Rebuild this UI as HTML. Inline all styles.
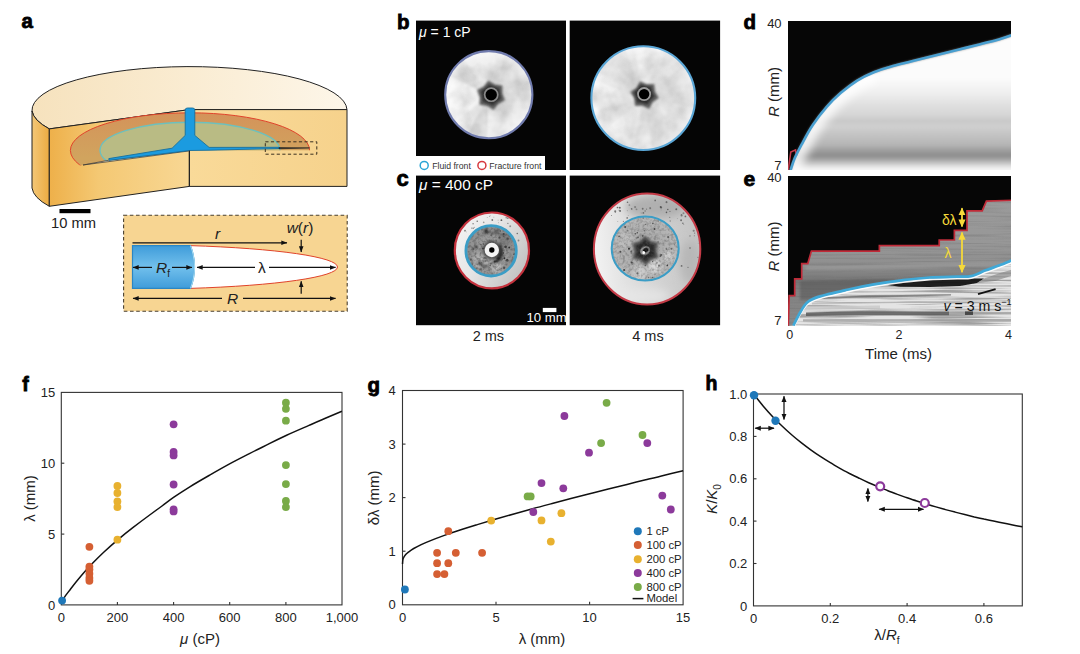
<!DOCTYPE html>
<html><head><meta charset="utf-8"><title>Figure</title>
<style>
html,body{margin:0;padding:0;background:#fff;}
body{width:1080px;height:654px;overflow:hidden;font-family:"Liberation Sans",sans-serif;}
svg{display:block;font-family:"Liberation Sans",sans-serif;}
</style></head><body>
<svg width="1080" height="654" viewBox="0 0 1080 654">
<rect width="1080" height="654" fill="#fff"/>
<g id="panel-f">
<rect x="61.3" y="392.4" width="280.7" height="212.5" fill="none" stroke="#333" stroke-width="1.1"/>
<text x="61.3" y="622.0" font-size="13" text-anchor="middle" font-weight="normal" font-style="normal" fill="#222" >0</text>
<line x1="117.4" y1="604.9" x2="117.4" y2="601.9" stroke="#333" stroke-width="1.1"/>
<text x="117.4" y="622.0" font-size="13" text-anchor="middle" font-weight="normal" font-style="normal" fill="#222" >200</text>
<line x1="173.6" y1="604.9" x2="173.6" y2="601.9" stroke="#333" stroke-width="1.1"/>
<text x="173.6" y="622.0" font-size="13" text-anchor="middle" font-weight="normal" font-style="normal" fill="#222" >400</text>
<line x1="229.7" y1="604.9" x2="229.7" y2="601.9" stroke="#333" stroke-width="1.1"/>
<text x="229.7" y="622.0" font-size="13" text-anchor="middle" font-weight="normal" font-style="normal" fill="#222" >600</text>
<line x1="285.9" y1="604.9" x2="285.9" y2="601.9" stroke="#333" stroke-width="1.1"/>
<text x="285.9" y="622.0" font-size="13" text-anchor="middle" font-weight="normal" font-style="normal" fill="#222" >800</text>
<text x="342.0" y="622.0" font-size="13" text-anchor="middle" font-weight="normal" font-style="normal" fill="#222" >1,000</text>
<text x="55.3" y="609.5" font-size="13" text-anchor="end" font-weight="normal" font-style="normal" fill="#222" >0</text>
<line x1="61.3" y1="534.1" x2="64.3" y2="534.1" stroke="#333" stroke-width="1.1"/>
<text x="55.3" y="538.7" font-size="13" text-anchor="end" font-weight="normal" font-style="normal" fill="#222" >5</text>
<line x1="61.3" y1="463.2" x2="64.3" y2="463.2" stroke="#333" stroke-width="1.1"/>
<text x="55.3" y="467.8" font-size="13" text-anchor="end" font-weight="normal" font-style="normal" fill="#222" >10</text>
<text x="55.3" y="397.0" font-size="13" text-anchor="end" font-weight="normal" font-style="normal" fill="#222" >15</text>
<path d="M61.3,603.8 C61.8,602.8 62.5,600.5 64.0,598.0 C65.5,595.5 67.8,592.7 70.6,589.0 C73.4,585.3 77.5,580.1 81.0,576.0 C84.5,571.9 87.5,568.6 91.3,564.6 C95.1,560.6 99.3,556.3 103.7,552.2 C108.1,548.1 112.9,543.8 117.7,539.8 C122.5,535.8 127.3,531.9 132.5,527.9 C137.7,523.9 144.1,519.1 149.0,515.5 C153.9,511.9 157.8,509.1 162.0,506.0 C166.2,502.9 169.3,500.4 173.9,497.2 C178.5,494.0 183.8,490.5 189.8,486.8 C195.8,483.1 203.1,478.9 209.7,475.1 C216.3,471.3 223.0,467.5 229.6,463.9 C236.2,460.3 242.8,457.0 249.4,453.6 C256.0,450.2 263.1,446.8 269.3,443.7 C275.5,440.6 280.0,438.4 286.6,435.3 C293.2,432.2 301.9,428.5 309.0,425.4 C316.1,422.3 323.4,419.1 328.9,416.8 C334.4,414.5 339.7,412.2 341.9,411.3" fill="none" stroke="#111" stroke-width="1.5"/>
<circle cx="89.4" cy="546.8" r="3.9" fill="#d55f33"/>
<circle cx="89.4" cy="566.6" r="3.9" fill="#d55f33"/>
<circle cx="89.4" cy="569.5" r="3.9" fill="#d55f33"/>
<circle cx="89.4" cy="573.7" r="3.9" fill="#d55f33"/>
<circle cx="89.4" cy="578.0" r="3.9" fill="#d55f33"/>
<circle cx="89.4" cy="580.8" r="3.9" fill="#d55f33"/>
<circle cx="117.4" cy="485.9" r="3.9" fill="#e8b12f"/>
<circle cx="117.4" cy="493.0" r="3.9" fill="#e8b12f"/>
<circle cx="117.4" cy="501.5" r="3.9" fill="#e8b12f"/>
<circle cx="117.4" cy="507.1" r="3.9" fill="#e8b12f"/>
<circle cx="117.4" cy="539.7" r="3.9" fill="#e8b12f"/>
<circle cx="173.6" cy="424.3" r="3.9" fill="#8c3a9b"/>
<circle cx="173.6" cy="451.9" r="3.9" fill="#8c3a9b"/>
<circle cx="173.6" cy="455.4" r="3.9" fill="#8c3a9b"/>
<circle cx="173.6" cy="484.5" r="3.9" fill="#8c3a9b"/>
<circle cx="173.6" cy="509.3" r="3.9" fill="#8c3a9b"/>
<circle cx="173.6" cy="511.4" r="3.9" fill="#8c3a9b"/>
<circle cx="285.9" cy="402.7" r="3.9" fill="#79ab48"/>
<circle cx="285.9" cy="408.8" r="3.9" fill="#79ab48"/>
<circle cx="285.9" cy="420.7" r="3.9" fill="#79ab48"/>
<circle cx="285.9" cy="465.1" r="3.9" fill="#79ab48"/>
<circle cx="285.9" cy="484.1" r="3.9" fill="#79ab48"/>
<circle cx="285.9" cy="500.9" r="3.9" fill="#79ab48"/>
<circle cx="285.9" cy="507.1" r="3.9" fill="#79ab48"/>
<circle cx="62.1" cy="600.6" r="3.9" fill="#1f78b9"/>
<text x="22.3" y="390.9" font-size="19.5" text-anchor="start" font-weight="bold" font-style="normal" fill="#000" stroke="#000" stroke-width="0.8">f</text>
<text transform="translate(34.5,498.5) rotate(-90)" font-size="15" text-anchor="middle" fill="#222">λ (mm)</text>
<text x="200" y="644" font-size="15" text-anchor="middle" fill="#222"><tspan font-style="italic">μ</tspan> (cP)</text>
</g>
<g id="panel-g">
<rect x="402.5" y="390.5" width="280.6" height="214.3" fill="none" stroke="#333" stroke-width="1.1"/>
<text x="402.5" y="622.0" font-size="13" text-anchor="middle" font-weight="normal" font-style="normal" fill="#222" >0</text>
<line x1="496.0" y1="604.8" x2="496.0" y2="601.8" stroke="#333" stroke-width="1.1"/>
<text x="496.0" y="622.0" font-size="13" text-anchor="middle" font-weight="normal" font-style="normal" fill="#222" >5</text>
<line x1="589.6" y1="604.8" x2="589.6" y2="601.8" stroke="#333" stroke-width="1.1"/>
<text x="589.6" y="622.0" font-size="13" text-anchor="middle" font-weight="normal" font-style="normal" fill="#222" >10</text>
<text x="683.1" y="622.0" font-size="13" text-anchor="middle" font-weight="normal" font-style="normal" fill="#222" >15</text>
<text x="395.7" y="609.4" font-size="13" text-anchor="end" font-weight="normal" font-style="normal" fill="#222" >0</text>
<line x1="402.5" y1="551.2" x2="405.5" y2="551.2" stroke="#333" stroke-width="1.1"/>
<text x="395.7" y="555.8" font-size="13" text-anchor="end" font-weight="normal" font-style="normal" fill="#222" >1</text>
<line x1="402.5" y1="497.6" x2="405.5" y2="497.6" stroke="#333" stroke-width="1.1"/>
<text x="395.7" y="502.2" font-size="13" text-anchor="end" font-weight="normal" font-style="normal" fill="#222" >2</text>
<line x1="402.5" y1="444.1" x2="405.5" y2="444.1" stroke="#333" stroke-width="1.1"/>
<text x="395.7" y="448.7" font-size="13" text-anchor="end" font-weight="normal" font-style="normal" fill="#222" >3</text>
<text x="395.7" y="395.1" font-size="13" text-anchor="end" font-weight="normal" font-style="normal" fill="#222" >4</text>
<path d="M402.5,564.0 C402.6,563.2 402.7,560.7 402.9,559.6 C403.1,558.5 403.2,558.3 403.6,557.6 C404.0,556.8 404.6,555.9 405.3,555.0 C406.1,554.2 406.7,553.4 408.1,552.3 C409.5,551.3 411.5,549.8 413.7,548.5 C415.9,547.3 418.4,546.0 421.2,544.6 C424.0,543.3 426.8,542.1 430.6,540.6 C434.3,539.1 439.0,537.3 443.7,535.6 C448.3,533.9 453.0,532.3 458.6,530.5 C464.2,528.6 471.1,526.5 477.3,524.6 C483.6,522.7 489.8,520.8 496.0,519.0 C502.3,517.2 508.5,515.4 514.7,513.7 C521.0,511.9 527.2,510.2 533.4,508.5 C539.7,506.9 545.9,505.2 552.2,503.5 C558.4,501.9 564.6,500.3 570.9,498.6 C577.1,497.0 583.3,495.4 589.6,493.8 C595.8,492.2 602.0,490.7 608.3,489.1 C614.5,487.5 620.7,486.0 627.0,484.4 C633.2,482.9 639.5,481.3 645.7,479.8 C651.9,478.3 658.2,476.8 664.4,475.2 C670.6,473.7 680.0,471.5 683.1,470.7" fill="none" stroke="#111" stroke-width="1.5"/>
<circle cx="437.1" cy="552.8" r="3.9" fill="#d55f33"/>
<circle cx="437.1" cy="563.2" r="3.9" fill="#d55f33"/>
<circle cx="437.1" cy="574.1" r="3.9" fill="#d55f33"/>
<circle cx="444.4" cy="574.1" r="3.9" fill="#d55f33"/>
<circle cx="448.3" cy="563.2" r="3.9" fill="#d55f33"/>
<circle cx="448.3" cy="531.2" r="3.9" fill="#d55f33"/>
<circle cx="455.8" cy="552.8" r="3.9" fill="#d55f33"/>
<circle cx="482.1" cy="552.8" r="3.9" fill="#d55f33"/>
<circle cx="491.2" cy="520.6" r="3.9" fill="#e8b12f"/>
<circle cx="541.5" cy="520.4" r="3.9" fill="#e8b12f"/>
<circle cx="561.4" cy="513.2" r="3.9" fill="#e8b12f"/>
<circle cx="550.8" cy="541.6" r="3.9" fill="#e8b12f"/>
<circle cx="533.3" cy="512.0" r="3.9" fill="#8c3a9b"/>
<circle cx="541.5" cy="483.1" r="3.9" fill="#8c3a9b"/>
<circle cx="564.4" cy="416.0" r="3.9" fill="#8c3a9b"/>
<circle cx="589.0" cy="452.7" r="3.9" fill="#8c3a9b"/>
<circle cx="647.3" cy="443.1" r="3.9" fill="#8c3a9b"/>
<circle cx="563.3" cy="488.3" r="3.9" fill="#8c3a9b"/>
<circle cx="662.3" cy="495.6" r="3.9" fill="#8c3a9b"/>
<circle cx="670.8" cy="509.5" r="3.9" fill="#8c3a9b"/>
<circle cx="527.6" cy="496.4" r="3.9" fill="#79ab48"/>
<circle cx="530.7" cy="496.4" r="3.9" fill="#79ab48"/>
<circle cx="606.6" cy="402.8" r="3.9" fill="#79ab48"/>
<circle cx="601.1" cy="443.1" r="3.9" fill="#79ab48"/>
<circle cx="642.5" cy="435.0" r="3.9" fill="#79ab48"/>
<circle cx="404.9" cy="589.5" r="3.9" fill="#1f78b9"/>
<circle cx="637.8" cy="531.2" r="4.0" fill="#1f78b9"/>
<text x="646.4" y="534.7" font-size="11.3" text-anchor="start" font-weight="normal" font-style="normal" fill="#222" >1 cP</text>
<circle cx="637.8" cy="545.0" r="4.0" fill="#d55f33"/>
<text x="646.4" y="548.5" font-size="11.3" text-anchor="start" font-weight="normal" font-style="normal" fill="#222" >100 cP</text>
<circle cx="637.8" cy="559.2" r="4.0" fill="#e8b12f"/>
<text x="646.4" y="562.7" font-size="11.3" text-anchor="start" font-weight="normal" font-style="normal" fill="#222" >200 cP</text>
<circle cx="637.8" cy="573.0" r="4.0" fill="#8c3a9b"/>
<text x="646.4" y="576.5" font-size="11.3" text-anchor="start" font-weight="normal" font-style="normal" fill="#222" >400 cP</text>
<circle cx="637.8" cy="587.0" r="4.0" fill="#79ab48"/>
<text x="646.4" y="590.5" font-size="11.3" text-anchor="start" font-weight="normal" font-style="normal" fill="#222" >800 cP</text>
<line x1="632.6" y1="598.6" x2="643.4" y2="598.6" stroke="#111" stroke-width="1.5"/>
<text x="646.4" y="602.4" font-size="11.3" text-anchor="start" font-weight="normal" font-style="normal" fill="#222" >Model</text>
<text x="367.5" y="391.8" font-size="20.5" text-anchor="start" font-weight="bold" font-style="normal" fill="#000" stroke="#000" stroke-width="0.8">g</text>
<text transform="translate(379,497.8) rotate(-90)" font-size="15" text-anchor="middle" fill="#222">δλ (mm)</text>
<text x="542" y="644" font-size="15" text-anchor="middle" fill="#222">λ (mm)</text>
</g>
<g id="panel-h">
<rect x="753.5" y="394.0" width="268.8" height="211.9" fill="none" stroke="#333" stroke-width="1.1"/>
<text x="753.5" y="622.5" font-size="13" text-anchor="middle" font-weight="normal" font-style="normal" fill="#222" >0</text>
<line x1="830.3" y1="605.9" x2="830.3" y2="602.9" stroke="#333" stroke-width="1.1"/>
<text x="830.3" y="622.5" font-size="13" text-anchor="middle" font-weight="normal" font-style="normal" fill="#222" >0.2</text>
<line x1="907.1" y1="605.9" x2="907.1" y2="602.9" stroke="#333" stroke-width="1.1"/>
<text x="907.1" y="622.5" font-size="13" text-anchor="middle" font-weight="normal" font-style="normal" fill="#222" >0.4</text>
<line x1="983.9" y1="605.9" x2="983.9" y2="602.9" stroke="#333" stroke-width="1.1"/>
<text x="983.9" y="622.5" font-size="13" text-anchor="middle" font-weight="normal" font-style="normal" fill="#222" >0.6</text>
<text x="747.3" y="610.5" font-size="13" text-anchor="end" font-weight="normal" font-style="normal" fill="#222" >0</text>
<line x1="753.5" y1="563.5" x2="756.5" y2="563.5" stroke="#333" stroke-width="1.1"/>
<text x="747.3" y="568.1" font-size="13" text-anchor="end" font-weight="normal" font-style="normal" fill="#222" >0.2</text>
<line x1="753.5" y1="521.1" x2="756.5" y2="521.1" stroke="#333" stroke-width="1.1"/>
<text x="747.3" y="525.7" font-size="13" text-anchor="end" font-weight="normal" font-style="normal" fill="#222" >0.4</text>
<line x1="753.5" y1="478.8" x2="756.5" y2="478.8" stroke="#333" stroke-width="1.1"/>
<text x="747.3" y="483.4" font-size="13" text-anchor="end" font-weight="normal" font-style="normal" fill="#222" >0.6</text>
<line x1="753.5" y1="436.4" x2="756.5" y2="436.4" stroke="#333" stroke-width="1.1"/>
<text x="747.3" y="441.0" font-size="13" text-anchor="end" font-weight="normal" font-style="normal" fill="#222" >0.8</text>
<text x="747.3" y="398.6" font-size="13" text-anchor="end" font-weight="normal" font-style="normal" fill="#222" >1.0</text>
<path d="M753.5,394.0 C755.1,396.0 759.9,402.2 763.1,406.0 C766.3,409.8 769.5,413.3 772.7,416.7 C775.9,420.1 779.1,423.3 782.3,426.3 C785.5,429.4 788.7,432.3 791.9,435.0 C795.1,437.8 798.3,440.4 801.5,442.9 C804.7,445.4 807.9,447.8 811.1,450.1 C814.3,452.4 817.5,454.6 820.7,456.7 C823.9,458.8 827.1,460.8 830.3,462.7 C833.5,464.7 836.7,466.5 839.9,468.3 C843.1,470.1 846.3,471.8 849.5,473.5 C852.7,475.1 855.9,476.7 859.1,478.2 C862.3,479.8 865.5,481.3 868.7,482.7 C871.9,484.1 875.1,485.5 878.3,486.9 C881.5,488.2 884.7,489.5 887.9,490.7 C891.1,492.0 894.3,493.2 897.5,494.4 C900.7,495.5 903.9,496.7 907.1,497.8 C910.3,498.9 913.5,500.0 916.7,501.0 C919.9,502.0 923.1,503.0 926.3,504.0 C929.5,505.0 932.7,506.0 935.9,506.9 C939.1,507.8 942.3,508.7 945.5,509.6 C948.7,510.5 951.9,511.3 955.1,512.1 C958.3,513.0 961.5,513.8 964.7,514.6 C967.9,515.4 971.1,516.1 974.3,516.9 C977.5,517.6 980.7,518.3 983.9,519.1 C987.1,519.8 990.3,520.5 993.5,521.1 C996.7,521.8 999.9,522.5 1003.1,523.1 C1006.3,523.8 1009.5,524.4 1012.7,525.0 C1015.9,525.6 1020.7,526.5 1022.3,526.8" fill="none" stroke="#111" stroke-width="1.5"/>
<circle cx="754" cy="395.2" r="4.2" fill="#1f78b9"/>
<circle cx="775.5" cy="420.8" r="4.2" fill="#1f78b9"/>
<circle cx="880.2" cy="486.3" r="4.0" fill="#fff" stroke="#8c3a9b" stroke-width="2.2"/>
<circle cx="924.8" cy="503" r="4.0" fill="#fff" stroke="#8c3a9b" stroke-width="2.2"/>
<defs><marker id="ah" viewBox="0 0 10 10" refX="9" refY="5" markerWidth="5.4" markerHeight="5.0" orient="auto-start-reverse"><path d="M0,1 L10,5 L0,9 z" fill="#111"/></marker></defs>
<line x1="784.0" y1="396.3" x2="784.0" y2="419.4" stroke="#111" stroke-width="1.25" marker-start="url(#ah)" marker-end="url(#ah)"/>
<line x1="755.2" y1="428.2" x2="774.0" y2="428.2" stroke="#111" stroke-width="1.25" marker-start="url(#ah)" marker-end="url(#ah)"/>
<line x1="867.9" y1="488.5" x2="867.9" y2="501.5" stroke="#111" stroke-width="1.25" marker-start="url(#ah)" marker-end="url(#ah)"/>
<line x1="879.2" y1="509.3" x2="923.5" y2="509.3" stroke="#111" stroke-width="1.25" marker-start="url(#ah)" marker-end="url(#ah)"/>
<text x="705.5" y="390.3" font-size="19.5" text-anchor="start" font-weight="bold" font-style="normal" fill="#000" stroke="#000" stroke-width="0.8">h</text>
 <text transform="translate(716.8,499) rotate(-90)" font-size="15" text-anchor="middle" fill="#222"><tspan font-style="italic">K</tspan>/<tspan font-style="italic">K</tspan><tspan font-size="10" dy="4">0</tspan></text>
<text x="887" y="640" font-size="15" text-anchor="middle" fill="#222">λ/<tspan font-style="italic">R</tspan><tspan font-size="10" dy="4">f</tspan></text>
</g>
<g id="panel-a">
<defs>
<linearGradient id="aTop" x1="0" y1="0" x2="1" y2="0"><stop offset="0" stop-color="#f6e2bd"/><stop offset="0.5" stop-color="#faecd2"/><stop offset="1" stop-color="#fdf6e9"/></linearGradient>
<linearGradient id="aLeft" x1="0" y1="0" x2="1" y2="0"><stop offset="0" stop-color="#eeb04a"/><stop offset="0.35" stop-color="#f4c873"/><stop offset="1" stop-color="#f8d794"/></linearGradient>
<linearGradient id="aWall" x1="0" y1="0" x2="1" y2="0"><stop offset="0" stop-color="#f3c777"/><stop offset="1" stop-color="#ecab41"/></linearGradient>
<linearGradient id="aRight" x1="0" y1="0" x2="1" y2="0"><stop offset="0" stop-color="#f9da99"/><stop offset="1" stop-color="#f6d28c"/></linearGradient>
<linearGradient id="aFluid" x1="0" y1="0" x2="0" y2="1"><stop offset="0" stop-color="#3f9cda"/><stop offset="0.5" stop-color="#72c0ec"/><stop offset="1" stop-color="#3f9cda"/></linearGradient>
<linearGradient id="aRed" x1="0" y1="0" x2="0" y2="1"><stop offset="0" stop-color="#d4935a"/><stop offset="0.6" stop-color="#d1a45e"/><stop offset="1" stop-color="#cda35c"/></linearGradient>
<clipPath id="aClipBack"><path d="M40,60 L360,60 L360,150.2 L189.4,150.2 L83,165.0 L40,171 Z"/></clipPath>
</defs>
<path d="M32,111 A157.5,43.7 0 0 1 347,109.6 L189.4,109.6 L49.3,128.9 A157.5,43.7 0 0 1 32,111 Z" fill="url(#aTop)" stroke="#222" stroke-width="1" stroke-linejoin="round"/>
<path d="M32,111 A157.5,43.7 0 0 0 49.3,128.9 L49.3,206.3 A157.5,43.7 0 0 1 32,188 Z" fill="url(#aWall)" stroke="#222" stroke-width="1" stroke-linejoin="round"/>
<path d="M49.3,128.9 L189.4,109.6 L189.4,186.4 L49.3,206.3 Z" fill="url(#aLeft)" stroke="#222" stroke-width="1" stroke-linejoin="round"/>
<path d="M189.4,109.6 L347,109.6 L347,186.4 L189.4,186.4 Z" fill="url(#aRight)" stroke="#222" stroke-width="1" stroke-linejoin="round"/>
<g clip-path="url(#aClipBack)">
<ellipse cx="190" cy="150.4" rx="119.6" ry="37.6" fill="url(#aRed)" stroke="#e0432b" stroke-width="1"/>
<ellipse cx="190" cy="150.2" rx="90" ry="28" fill="#b9bb84" stroke="#6dc0bd" stroke-width="1.4"/>
</g>
<path d="M83,165.0 L109,160.2 L189.4,150.4 L189.4,150.9 L109,161.6 Z" fill="#f4e8cf" stroke="#333" stroke-width="0.7" stroke-linejoin="round"/>
<path d="M185.2,110 Q185.2,108 187.5,108 L192.5,108 Q194.8,108 194.8,110 L194.8,135.4 L209.1,147.4 L279,147.3 L279.5,148.5 L209,150.2 L189.4,150.5 L109.2,160.3 L108.8,158.6 L172.1,148.2 L185.2,135.4 Z" fill="#1b9be0" stroke="#176f9c" stroke-width="0.9" stroke-linejoin="round"/>
<path d="M279,147.6 L309.5,147.9 L279,148.8 Z" fill="#222" stroke="#222" stroke-width="0.6"/>
<line x1="189.4" y1="150.6" x2="189.4" y2="186.4" stroke="#222" stroke-width="1"/>
<rect x="265.3" y="141.8" width="51.5" height="12.4" fill="none" stroke="#3a3020" stroke-width="1" stroke-dasharray="3.2,2.4"/>
<rect x="59.5" y="209" width="31" height="4.2" fill="#000"/>
<text x="73.5" y="228.2" font-size="14.5" text-anchor="middle" font-weight="normal" font-style="normal" fill="#222" textLength="45" lengthAdjust="spacingAndGlyphs">10 mm</text>
<text x="21.6" y="27.5" font-size="20.5" text-anchor="start" font-weight="bold" font-style="normal" fill="#000" stroke="#000" stroke-width="0.8">a</text>
<rect x="123.6" y="215.2" width="223.6" height="96" fill="#f7d592" stroke="#4a4030" stroke-width="1.1" stroke-dasharray="3.6,2.6"/>
<path d="M190,245.6 A205,22.3 0 0 1 337.5,267 A205,22.3 0 0 1 190,288.4 Z" fill="#fff" stroke="#e0432b" stroke-width="1"/>
<path d="M132.5,245.6 L190.5,245.6 Q198.5,267 190.5,288.4 L132.5,288.4 Z" fill="url(#aFluid)" stroke="#2b86c4" stroke-width="1.2"/>
<path d="M190.5,245.6 Q198.5,267 190.5,288.4" fill="none" stroke="#9fd8f2" stroke-width="1.2"/>
<defs><marker id="ai" viewBox="0 0 10 10" refX="9.5" refY="5" markerWidth="5.4" markerHeight="5.0" orient="auto-start-reverse"><path d="M0,1.2 L10,5 L0,8.8 z" fill="#111"/></marker></defs>
<line x1="132.5" y1="242.8" x2="287" y2="242.8" stroke="#111" stroke-width="1.2"  marker-end="url(#ai)"/>
<line x1="301.2" y1="239.8" x2="301.2" y2="252.0" stroke="#111" stroke-width="1.2"  marker-end="url(#ai)"/>
<line x1="301.2" y1="293.8" x2="301.2" y2="281.2" stroke="#111" stroke-width="1.2"  marker-end="url(#ai)"/>
<line x1="152" y1="267.4" x2="133" y2="267.4" stroke="#111" stroke-width="1.2"  marker-end="url(#ai)"/>
<line x1="172" y1="267.4" x2="192" y2="267.4" stroke="#111" stroke-width="1.2"  marker-end="url(#ai)"/>
<text x="156" y="273" font-size="15.5" fill="#222"><tspan font-style="italic">R</tspan><tspan font-size="10" dy="4">f</tspan></text>
<line x1="255" y1="267.4" x2="197" y2="267.4" stroke="#111" stroke-width="1.2"  marker-end="url(#ai)"/>
<line x1="269" y1="267.4" x2="335.6" y2="267.4" stroke="#111" stroke-width="1.2"  marker-end="url(#ai)"/>
<text x="261.8" y="272.5" font-size="15.5" text-anchor="middle" font-weight="normal" font-style="normal" fill="#222" >λ</text>
<line x1="222" y1="298.4" x2="133" y2="298.4" stroke="#111" stroke-width="1.2"  marker-end="url(#ai)"/>
<line x1="243" y1="298.4" x2="335.6" y2="298.4" stroke="#111" stroke-width="1.2"  marker-end="url(#ai)"/>
<text x="232.6" y="304.0" font-size="15.5" text-anchor="middle" font-weight="normal" font-style="italic" fill="#222" >R</text>
<text x="217.6" y="239.0" font-size="15.5" text-anchor="middle" font-weight="normal" font-style="italic" fill="#222" >r</text>
<text x="300" y="233" font-size="15.5" text-anchor="middle" fill="#222"><tspan font-style="italic">w</tspan>(<tspan font-style="italic">r</tspan>)</text>
</g>
<g id="panel-bc">
<defs>
<filter id="blur1" x="-20%" y="-20%" width="140%" height="140%"><feGaussianBlur stdDeviation="1"/></filter>
<filter id="blur06" x="-20%" y="-20%" width="140%" height="140%"><feGaussianBlur stdDeviation="0.6"/></filter>
<filter id="blur13" x="-30%" y="-30%" width="160%" height="160%"><feGaussianBlur stdDeviation="1.3"/></filter>
<filter id="mott" x="0" y="0" width="100%" height="100%"><feTurbulence type="fractalNoise" baseFrequency="0.045" numOctaves="3" seed="4" result="n"/><feColorMatrix in="n" type="matrix" values="0 0 0 0 0.35  0 0 0 0 0.35  0 0 0 0 0.35  1.6 0 0 0 -0.55"/></filter>
<filter id="mottw" x="0" y="0" width="100%" height="100%"><feTurbulence type="fractalNoise" baseFrequency="0.05" numOctaves="3" seed="11" result="n"/><feColorMatrix in="n" type="matrix" values="0 0 0 0 1  0 0 0 0 1  0 0 0 0 1  0 1.8 0 0 -0.6"/></filter>
<filter id="grain" x="0" y="0" width="100%" height="100%"><feTurbulence type="fractalNoise" baseFrequency="0.35" numOctaves="2" seed="8" result="n"/><feColorMatrix in="n" type="matrix" values="0 0 0 0 0.1  0 0 0 0 0.1  0 0 0 0 0.1  2.4 0 0 0 -1.0"/></filter>
<filter id="blur2" x="-30%" y="-30%" width="160%" height="160%"><feGaussianBlur stdDeviation="2.2"/></filter>
<filter id="blur4" x="-30%" y="-30%" width="160%" height="160%"><feGaussianBlur stdDeviation="4"/></filter>
<radialGradient id="gB" cx="0.5" cy="0.5" r="0.5"><stop offset="0" stop-color="#cfcfcf"/><stop offset="0.45" stop-color="#dedede"/><stop offset="0.85" stop-color="#e9e9e9"/><stop offset="1" stop-color="#f4f4f6"/></radialGradient>
<radialGradient id="gCin" cx="0.5" cy="0.5" r="0.5"><stop offset="0" stop-color="#b8b8b8"/><stop offset="0.5" stop-color="#9a9a9a"/><stop offset="1" stop-color="#8e8e8e"/></radialGradient>
<radialGradient id="gCin2" cx="0.5" cy="0.5" r="0.5"><stop offset="0" stop-color="#a0a0a0"/><stop offset="0.6" stop-color="#b0b0b0"/><stop offset="1" stop-color="#b8b8b8"/></radialGradient>
<linearGradient id="gCout" x1="0" y1="0" x2="1" y2="0.6"><stop offset="0" stop-color="#f6f6f6"/><stop offset="0.5" stop-color="#e6e6e6"/><stop offset="1" stop-color="#c4c4c4"/></linearGradient>
<linearGradient id="gCout2" x1="0" y1="0.4" x2="1" y2="0.3"><stop offset="0" stop-color="#f2f2f2"/><stop offset="0.35" stop-color="#dcdcdc"/><stop offset="1" stop-color="#c2c2c2"/></linearGradient>
</defs>
<rect x="416" y="20.6" width="150" height="149.4" fill="#050505"/>
<rect x="569.7" y="20.6" width="150.4" height="149.4" fill="#050505"/>
<rect x="416" y="175.6" width="150" height="149.6" fill="#050505"/>
<rect x="569.7" y="175.6" width="150.4" height="149.6" fill="#050505"/>
<defs><clipPath id="cb1"><circle cx="488.8" cy="94.7" r="43.6"/></clipPath></defs>
<circle cx="488.8" cy="94.7" r="43.6" fill="url(#gB)"/>
<g clip-path="url(#cb1)" filter="url(#blur1)"><path d="M488.8,94.7 L442.0,133.9 L433.5,68.9 Z" fill="#fff" opacity="0.6"/><path d="M488.8,94.7 L486.7,155.7 L460.1,148.6 Z" fill="#bcbcbc" opacity="0.45"/><path d="M488.8,94.7 L523.8,144.7 L486.7,155.7 Z" fill="#fff" opacity="0.35"/><path d="M488.8,94.7 L523.8,44.7 L547.8,78.9 Z" fill="#c8c8c8" opacity="0.3"/><path d="M488.8,94.7 L442.0,55.5 L478.2,34.6 Z" fill="#fff" opacity="0.3"/><path d="M488.8,94.7 L433.5,68.9 L453.8,44.7 Z" fill="#cacaca" opacity="0.3"/></g>
<rect x="445.2" y="51.1" width="87.2" height="87.2" filter="url(#mott)" clip-path="url(#cb1)" opacity="0.55"/>
<rect x="445.2" y="51.1" width="87.2" height="87.2" filter="url(#mottw)" clip-path="url(#cb1)" opacity="0.6"/>
<circle cx="488.8" cy="94.7" r="43.6" fill="none" stroke="#717cae" stroke-width="2.1" filter="url(#blur06)"/>
<polygon points="505.1,100.3 498.4,104.0 493.6,110.0 487.1,106.0 479.5,104.8 479.7,97.2 476.9,90.1 483.6,86.4 488.4,80.4 494.9,84.4 502.5,85.6 502.3,93.2" fill="#555" filter="url(#blur13)" opacity="0.9"/>
<polygon points="501.3,98.8 496.8,101.9 492.9,105.8 487.9,103.5 482.6,102.1 482.1,96.6 480.7,91.2 485.2,88.1 489.1,84.2 494.1,86.5 499.4,87.9 499.9,93.4" fill="#2e2e2e" filter="url(#blur1)" opacity="0.9"/>
<circle cx="491.2" cy="94.7" r="7.4" fill="#8a8a8a" filter="url(#blur06)"/>
<circle cx="491.2" cy="94.7" r="5.7" fill="#050505" filter="url(#blur06)"/>
<defs><clipPath id="cb2"><circle cx="643.3" cy="98.1" r="51.9"/></clipPath></defs>
<circle cx="643.3" cy="98.1" r="51.9" fill="url(#gB)"/>
<g clip-path="url(#cb2)" filter="url(#blur1)"><path d="M643.3,98.1 L573.1,116.9 L575.0,73.2 Z" fill="#fff" opacity="0.4"/><path d="M643.3,98.1 L630.7,169.7 L587.6,144.8 Z" fill="#fff" opacity="0.3"/><path d="M643.3,98.1 L580.4,61.8 L618.4,29.8 Z" fill="#c9c9c9" opacity="0.3"/><path d="M643.3,98.1 L699.0,51.4 L714.9,110.7 Z" fill="#cdcdcd" opacity="0.3"/><path d="M643.3,98.1 L699.0,144.8 L655.9,169.7 Z" fill="#c4c4c4" opacity="0.3"/><path d="M643.3,98.1 L630.7,26.5 L668.2,29.8 Z" fill="#fff" opacity="0.35"/></g>
<rect x="591.4" y="46.199999999999996" width="103.8" height="103.8" filter="url(#mott)" clip-path="url(#cb2)" opacity="0.5"/>
<rect x="591.4" y="46.199999999999996" width="103.8" height="103.8" filter="url(#mottw)" clip-path="url(#cb2)" opacity="0.5"/>
<circle cx="643.3" cy="98.1" r="51.9" fill="none" stroke="#5aa6d6" stroke-width="2.1" filter="url(#blur06)"/>
<polygon points="658.8,97.9 652.8,102.3 649.2,108.7 642.4,105.8 635.0,105.9 634.2,98.5 630.4,92.1 636.4,87.7 640.0,81.3 646.8,84.2 654.2,84.1 655.0,91.5" fill="#555" filter="url(#blur13)" opacity="0.9"/>
<polygon points="654.4,96.7 650.5,100.3 647.4,104.6 642.4,103.0 637.1,102.5 635.9,97.3 633.8,92.5 637.7,88.9 640.8,84.6 645.8,86.2 651.1,86.7 652.3,91.9" fill="#2c2c2c" filter="url(#blur1)" opacity="0.9"/>
<circle cx="644.1" cy="94.1" r="7.0" fill="#9a9a9a" filter="url(#blur06)"/>
<circle cx="644.1" cy="94.1" r="5.2" fill="#050505" filter="url(#blur06)"/>
<defs><clipPath id="cc1"><ellipse cx="491.9" cy="250.4" rx="37.1" ry="37.9"/></clipPath><clipPath id="cc1i"><circle cx="491.1" cy="250.8" r="25.4"/></clipPath></defs>
<ellipse cx="491.9" cy="250.4" rx="37.1" ry="37.9" fill="url(#gCout)"/>
<g clip-path="url(#cc1)" filter="url(#blur06)"><circle cx="483.7" cy="222.4" r="0.79" fill="#555" opacity="0.53"/><circle cx="498.1" cy="220.1" r="0.43" fill="#555" opacity="0.73"/><circle cx="466.4" cy="231.9" r="0.44" fill="#555" opacity="0.54"/><circle cx="490.1" cy="215.8" r="0.47" fill="#555" opacity="0.60"/><circle cx="506.2" cy="217.8" r="0.75" fill="#555" opacity="0.68"/><circle cx="518.5" cy="240.5" r="0.92" fill="#555" opacity="0.63"/><circle cx="473.3" cy="228.2" r="0.59" fill="#555" opacity="0.87"/><circle cx="473.1" cy="223.7" r="0.78" fill="#555" opacity="0.67"/><circle cx="498.4" cy="222.7" r="0.44" fill="#555" opacity="0.59"/><circle cx="507.9" cy="223.4" r="0.59" fill="#555" opacity="0.76"/><circle cx="492.3" cy="220.0" r="0.88" fill="#555" opacity="0.81"/><circle cx="477.2" cy="221.3" r="0.72" fill="#555" opacity="0.89"/><circle cx="510.2" cy="226.2" r="0.99" fill="#555" opacity="0.55"/><circle cx="489.6" cy="216.4" r="0.49" fill="#555" opacity="0.72"/><circle cx="465.0" cy="230.7" r="0.86" fill="#555" opacity="0.76"/><circle cx="517.3" cy="233.5" r="0.82" fill="#555" opacity="0.77"/><circle cx="501.4" cy="220.2" r="0.90" fill="#555" opacity="0.93"/><circle cx="493.9" cy="217.1" r="0.44" fill="#555" opacity="0.82"/><circle cx="507.8" cy="218.2" r="0.89" fill="#555" opacity="0.63"/><circle cx="487.2" cy="217.4" r="0.41" fill="#555" opacity="0.71"/><circle cx="474.6" cy="227.2" r="0.44" fill="#555" opacity="0.85"/><circle cx="471.9" cy="228.1" r="0.63" fill="#555" opacity="0.89"/></g>
<circle cx="491.1" cy="250.8" r="25.4" fill="url(#gCin)"/>
<g clip-path="url(#cc1i)" filter="url(#blur06)"><circle cx="504.4" cy="258.2" r="0.94" fill="#222" opacity="0.90"/><circle cx="500.3" cy="231.0" r="0.72" fill="#222" opacity="0.69"/><circle cx="477.1" cy="268.0" r="1.27" fill="#222" opacity="0.57"/><circle cx="496.3" cy="261.3" r="0.69" fill="#222" opacity="0.72"/><circle cx="480.8" cy="244.3" r="0.50" fill="#222" opacity="0.69"/><circle cx="479.5" cy="263.3" r="1.26" fill="#222" opacity="0.81"/><circle cx="473.3" cy="249.1" r="1.04" fill="#222" opacity="0.52"/><circle cx="507.6" cy="238.7" r="1.20" fill="#222" opacity="0.86"/><circle cx="479.9" cy="259.8" r="0.58" fill="#222" opacity="0.79"/><circle cx="499.5" cy="254.3" r="0.67" fill="#222" opacity="0.57"/><circle cx="486.4" cy="258.3" r="0.50" fill="#222" opacity="0.57"/><circle cx="502.2" cy="259.0" r="0.52" fill="#222" opacity="0.89"/><circle cx="483.3" cy="244.0" r="0.70" fill="#222" opacity="0.66"/><circle cx="484.5" cy="258.3" r="1.18" fill="#222" opacity="0.95"/><circle cx="475.7" cy="254.1" r="0.57" fill="#222" opacity="0.55"/><circle cx="484.4" cy="261.0" r="1.16" fill="#222" opacity="0.57"/><circle cx="514.1" cy="254.2" r="0.92" fill="#222" opacity="0.57"/><circle cx="483.0" cy="248.5" r="0.92" fill="#222" opacity="0.94"/><circle cx="503.6" cy="236.3" r="0.71" fill="#222" opacity="0.67"/><circle cx="501.2" cy="268.4" r="0.93" fill="#222" opacity="0.85"/><circle cx="485.5" cy="260.9" r="1.15" fill="#222" opacity="0.94"/><circle cx="503.7" cy="234.1" r="1.15" fill="#222" opacity="0.83"/><circle cx="493.5" cy="266.9" r="0.78" fill="#222" opacity="0.51"/><circle cx="503.4" cy="253.0" r="0.71" fill="#222" opacity="0.81"/><circle cx="505.7" cy="246.7" r="1.25" fill="#222" opacity="0.94"/><circle cx="504.4" cy="246.9" r="0.68" fill="#222" opacity="0.60"/><circle cx="494.8" cy="261.4" r="1.00" fill="#222" opacity="0.91"/><circle cx="499.5" cy="237.6" r="1.02" fill="#222" opacity="0.86"/><circle cx="507.1" cy="260.2" r="1.23" fill="#222" opacity="0.85"/><circle cx="491.1" cy="235.2" r="0.64" fill="#222" opacity="0.86"/><circle cx="480.8" cy="268.9" r="1.28" fill="#222" opacity="0.68"/><circle cx="472.3" cy="264.2" r="1.08" fill="#222" opacity="0.58"/><circle cx="498.4" cy="258.3" r="1.22" fill="#222" opacity="0.86"/><circle cx="504.0" cy="267.7" r="1.28" fill="#222" opacity="0.80"/><circle cx="481.2" cy="264.3" r="0.60" fill="#222" opacity="0.51"/><circle cx="509.2" cy="247.5" r="0.92" fill="#222" opacity="0.92"/><circle cx="471.0" cy="259.7" r="1.16" fill="#222" opacity="0.59"/><circle cx="491.0" cy="263.5" r="0.69" fill="#222" opacity="0.76"/><circle cx="490.2" cy="265.5" r="0.60" fill="#222" opacity="0.91"/><circle cx="481.8" cy="263.0" r="0.97" fill="#222" opacity="0.91"/></g>
<g clip-path="url(#cc1i)" filter="url(#blur2)"><circle cx="480" cy="262" r="8" fill="#c8c8c8" opacity="0.6"/><circle cx="505" cy="240" r="7" fill="#6a6a6a" opacity="0.5"/><circle cx="497" cy="268" r="6" fill="#d0d0d0" opacity="0.6"/></g>
<rect x="464" y="224" width="55" height="55" filter="url(#grain)" clip-path="url(#cc1i)" opacity="0.7"/>
<g clip-path="url(#cc1i)" filter="url(#blur1)"><path d="M480,236 Q492,228 504,236 Q497,233 491,233 Q485,233 480,236 Z" fill="#222" opacity="0.8"/><path d="M499,243 Q506,250 501,260 Q497,264 492,263 Q500,258 499,243 Z" fill="#1a1a1a" opacity="0.85"/><path d="M478,258 Q482,266 490,266 Q484,270 478,264 Z" fill="#333" opacity="0.7"/><circle cx="486" cy="231" r="2.2" fill="#222" opacity="0.8"/><circle cx="476" cy="247" r="1.6" fill="#222" opacity="0.8"/><circle cx="497" cy="231" r="1.5" fill="#333" opacity="0.8"/></g>
<circle cx="491.8" cy="250" r="9.5" fill="#3a3a3a" filter="url(#blur1)" opacity="0.75"/>
<circle cx="491.8" cy="250" r="7.2" fill="#f4f4f4" filter="url(#blur06)"/>
<circle cx="491.8" cy="250" r="2.7" fill="#050505" filter="url(#blur06)"/>
<circle cx="491.1" cy="250.8" r="25.2" fill="none" stroke="#3b9dc6" stroke-width="2.8" filter="url(#blur06)"/>
<ellipse cx="491.9" cy="250.4" rx="37.1" ry="37.9" fill="none" stroke="#c4303c" stroke-width="2.2" filter="url(#blur06)"/>
<defs><clipPath id="cc2"><ellipse cx="647.1" cy="249" rx="53.2" ry="55.5"/></clipPath><clipPath id="cc2i"><ellipse cx="645.2" cy="248.5" rx="33.5" ry="32.1"/></clipPath></defs>
<ellipse cx="647.1" cy="249" rx="53.2" ry="55.5" fill="url(#gCout2)"/>
<g clip-path="url(#cc2)" filter="url(#blur4)"><ellipse cx="655" cy="207" rx="30" ry="12" fill="#a8a8a8" opacity="0.8"/><ellipse cx="690" cy="262" rx="10" ry="22" fill="#b0b0b0" opacity="0.7"/><ellipse cx="640" cy="296" rx="30" ry="8" fill="#e8e8e8" opacity="0.7"/></g>
<g clip-path="url(#cc2)" filter="url(#blur06)"><circle cx="666.4" cy="202.1" r="0.75" fill="#555" opacity="0.74"/><circle cx="670.2" cy="221.0" r="0.71" fill="#555" opacity="0.58"/><circle cx="611.5" cy="215.6" r="0.52" fill="#555" opacity="0.71"/><circle cx="690.0" cy="235.9" r="0.63" fill="#555" opacity="0.73"/><circle cx="681.3" cy="214.5" r="0.47" fill="#555" opacity="0.75"/><circle cx="642.7" cy="208.8" r="0.94" fill="#555" opacity="0.73"/><circle cx="681.6" cy="215.4" r="1.04" fill="#555" opacity="0.70"/><circle cx="682.9" cy="223.3" r="0.76" fill="#555" opacity="0.81"/><circle cx="667.8" cy="209.6" r="0.73" fill="#555" opacity="0.92"/><circle cx="693.7" cy="230.8" r="1.06" fill="#555" opacity="0.62"/><circle cx="683.5" cy="213.2" r="0.99" fill="#555" opacity="0.56"/><circle cx="627.3" cy="210.7" r="0.45" fill="#555" opacity="0.61"/><circle cx="620.1" cy="210.9" r="0.95" fill="#555" opacity="0.90"/><circle cx="629.4" cy="205.0" r="0.86" fill="#555" opacity="0.56"/><circle cx="697.9" cy="257.2" r="0.55" fill="#555" opacity="0.93"/><circle cx="661.1" cy="207.5" r="1.09" fill="#555" opacity="0.87"/><circle cx="631.9" cy="208.9" r="0.76" fill="#555" opacity="0.65"/><circle cx="636.5" cy="209.3" r="0.91" fill="#555" opacity="0.51"/><circle cx="677.3" cy="218.3" r="0.41" fill="#555" opacity="0.65"/><circle cx="683.8" cy="224.4" r="0.45" fill="#555" opacity="0.94"/><circle cx="698.3" cy="243.1" r="0.47" fill="#555" opacity="0.62"/><circle cx="615.3" cy="212.4" r="0.59" fill="#555" opacity="0.56"/><circle cx="666.6" cy="202.3" r="0.97" fill="#555" opacity="0.62"/><circle cx="627.5" cy="202.2" r="0.80" fill="#555" opacity="0.82"/><circle cx="627.2" cy="217.9" r="0.88" fill="#555" opacity="0.69"/><circle cx="617.5" cy="207.5" r="0.84" fill="#555" opacity="0.86"/><circle cx="619.6" cy="207.6" r="0.45" fill="#555" opacity="0.89"/><circle cx="666.5" cy="212.4" r="0.79" fill="#555" opacity="0.92"/><circle cx="645.1" cy="211.0" r="0.77" fill="#555" opacity="0.61"/><circle cx="628.2" cy="215.4" r="0.44" fill="#555" opacity="0.59"/><circle cx="650.2" cy="208.2" r="0.93" fill="#555" opacity="0.63"/><circle cx="669.7" cy="217.4" r="0.64" fill="#555" opacity="0.51"/><circle cx="643.4" cy="212.9" r="0.91" fill="#555" opacity="0.75"/><circle cx="635.1" cy="207.1" r="1.05" fill="#555" opacity="0.55"/><circle cx="690.0" cy="247.9" r="0.75" fill="#555" opacity="0.88"/><circle cx="660.6" cy="207.0" r="0.88" fill="#555" opacity="0.94"/><circle cx="655.2" cy="200.4" r="0.89" fill="#555" opacity="0.79"/><circle cx="661.1" cy="209.9" r="0.44" fill="#555" opacity="0.56"/><circle cx="619.1" cy="210.2" r="0.58" fill="#555" opacity="0.57"/><circle cx="619.8" cy="207.7" r="1.01" fill="#555" opacity="0.80"/><circle cx="646.6" cy="209.1" r="0.61" fill="#555" opacity="0.71"/><circle cx="631.4" cy="208.8" r="0.58" fill="#555" opacity="0.93"/><circle cx="688.0" cy="267.3" r="0.57" fill="#555" opacity="0.93"/><circle cx="650.0" cy="207.4" r="0.40" fill="#555" opacity="0.67"/><circle cx="670.0" cy="211.4" r="0.54" fill="#555" opacity="0.73"/><circle cx="617.8" cy="221.4" r="0.46" fill="#555" opacity="0.68"/><circle cx="623.4" cy="221.4" r="0.61" fill="#555" opacity="0.60"/><circle cx="681.1" cy="220.3" r="0.93" fill="#555" opacity="0.80"/><circle cx="694.6" cy="233.1" r="0.67" fill="#555" opacity="0.65"/><circle cx="681.6" cy="265.9" r="0.91" fill="#555" opacity="0.79"/><circle cx="615.2" cy="211.3" r="1.02" fill="#555" opacity="0.78"/><circle cx="694.3" cy="235.8" r="0.50" fill="#555" opacity="0.74"/><circle cx="676.3" cy="209.2" r="0.96" fill="#555" opacity="0.87"/><circle cx="685.4" cy="216.4" r="0.88" fill="#555" opacity="0.81"/><circle cx="641.2" cy="213.0" r="0.49" fill="#555" opacity="0.66"/></g>
<ellipse cx="645.2" cy="248.5" rx="33.5" ry="32.1" fill="url(#gCin2)"/>
<g clip-path="url(#cc2i)" filter="url(#blur2)"><circle cx="655" cy="266" r="7" fill="#e2e2e2" opacity="0.8"/><circle cx="640" cy="273" r="7" fill="#d8d8d8" opacity="0.7"/><circle cx="668" cy="256" r="5" fill="#dedede" opacity="0.7"/><circle cx="625" cy="240" r="8" fill="#c6c6c6" opacity="0.6"/></g>
<g clip-path="url(#cc2i)" filter="url(#blur06)"><circle cx="667.2" cy="265.6" r="0.79" fill="#2a2a2a" opacity="0.78"/><circle cx="627.7" cy="230.7" r="0.74" fill="#2a2a2a" opacity="0.50"/><circle cx="652.9" cy="223.5" r="0.75" fill="#2a2a2a" opacity="0.74"/><circle cx="638.0" cy="237.3" r="0.92" fill="#2a2a2a" opacity="0.61"/><circle cx="660.4" cy="256.2" r="0.91" fill="#2a2a2a" opacity="0.59"/><circle cx="643.2" cy="218.0" r="0.75" fill="#2a2a2a" opacity="0.67"/><circle cx="620.4" cy="251.8" r="0.94" fill="#2a2a2a" opacity="0.78"/><circle cx="636.8" cy="238.0" r="0.50" fill="#2a2a2a" opacity="0.61"/><circle cx="644.4" cy="230.7" r="0.80" fill="#2a2a2a" opacity="0.51"/><circle cx="661.1" cy="254.9" r="0.87" fill="#2a2a2a" opacity="0.81"/><circle cx="637.3" cy="232.8" r="0.76" fill="#2a2a2a" opacity="0.71"/><circle cx="631.3" cy="251.5" r="1.03" fill="#2a2a2a" opacity="0.59"/><circle cx="674.7" cy="244.4" r="0.41" fill="#2a2a2a" opacity="0.71"/><circle cx="658.1" cy="221.0" r="0.71" fill="#2a2a2a" opacity="0.62"/><circle cx="652.7" cy="277.5" r="0.55" fill="#2a2a2a" opacity="0.76"/><circle cx="659.0" cy="265.6" r="1.07" fill="#2a2a2a" opacity="0.56"/><circle cx="654.5" cy="228.9" r="1.02" fill="#2a2a2a" opacity="0.82"/><circle cx="648.6" cy="277.4" r="0.74" fill="#2a2a2a" opacity="0.51"/><circle cx="666.5" cy="249.0" r="0.72" fill="#2a2a2a" opacity="0.64"/><circle cx="657.0" cy="262.8" r="0.62" fill="#2a2a2a" opacity="0.88"/><circle cx="671.5" cy="248.8" r="0.99" fill="#2a2a2a" opacity="0.55"/><circle cx="668.1" cy="237.1" r="1.03" fill="#2a2a2a" opacity="0.63"/><circle cx="631.7" cy="262.5" r="1.10" fill="#2a2a2a" opacity="0.77"/><circle cx="632.3" cy="264.0" r="0.59" fill="#2a2a2a" opacity="0.52"/><circle cx="667.6" cy="265.1" r="0.60" fill="#2a2a2a" opacity="0.92"/><circle cx="645.3" cy="265.5" r="0.76" fill="#2a2a2a" opacity="0.59"/><circle cx="624.1" cy="270.1" r="1.02" fill="#2a2a2a" opacity="0.87"/><circle cx="625.2" cy="227.0" r="1.06" fill="#2a2a2a" opacity="0.75"/><circle cx="642.7" cy="235.8" r="0.91" fill="#2a2a2a" opacity="0.70"/><circle cx="645.6" cy="224.3" r="0.60" fill="#2a2a2a" opacity="0.52"/><circle cx="658.1" cy="242.1" r="0.73" fill="#2a2a2a" opacity="0.65"/><circle cx="637.5" cy="273.4" r="1.08" fill="#2a2a2a" opacity="0.62"/><circle cx="635.3" cy="233.8" r="0.79" fill="#2a2a2a" opacity="0.68"/><circle cx="652.7" cy="261.6" r="0.55" fill="#2a2a2a" opacity="0.91"/><circle cx="629.0" cy="248.8" r="1.03" fill="#2a2a2a" opacity="0.95"/><circle cx="631.3" cy="253.0" r="0.53" fill="#2a2a2a" opacity="0.54"/><circle cx="637.7" cy="260.0" r="0.57" fill="#2a2a2a" opacity="0.62"/><circle cx="619.1" cy="236.3" r="0.92" fill="#2a2a2a" opacity="0.69"/></g>
<polygon points="658.6,257.8 651.1,260.0 645.8,265.6 640.1,260.3 632.6,258.4 634.4,250.9 632.2,243.4 639.7,241.2 645.0,235.6 650.7,240.9 658.2,242.8 656.4,250.3" fill="#4a4a4a" filter="url(#blur13)" opacity="0.85"/>
<polygon points="655.1,255.9 649.8,257.9 645.7,261.6 641.3,258.1 636.0,256.3 636.9,250.8 635.7,245.3 641.0,243.3 645.1,239.6 649.5,243.1 654.8,244.9 653.9,250.4" fill="#222" filter="url(#blur1)" opacity="0.9"/>
<ellipse cx="645.0" cy="250.6" rx="5.2" ry="4.2" fill="#9a9a9a" filter="url(#blur06)" transform="rotate(-30 645 250.6)"/>
<ellipse cx="645.6" cy="250.2" rx="3" ry="2.2" fill="#111" filter="url(#blur06)" transform="rotate(-30 645.6 250.2)"/>
<circle cx="643.6" cy="252.6" r="1.5" fill="#fff" filter="url(#blur06)"/>
<rect x="610" y="215" width="71" height="68" filter="url(#grain)" clip-path="url(#cc2i)" opacity="0.45"/>
<ellipse cx="645.2" cy="248.5" rx="33.5" ry="32.1" fill="none" stroke="#3b9dc6" stroke-width="2.0" filter="url(#blur06)"/>
<ellipse cx="647.1" cy="249" rx="53.2" ry="55.5" fill="none" stroke="#c43a46" stroke-width="2.0" filter="url(#blur06)"/>
<rect x="416" y="156" width="129" height="14" fill="#fff"/>
<circle cx="424.2" cy="165.4" r="4.0" fill="#fff" stroke="#2aa5d6" stroke-width="1.5"/>
<text x="432.2" y="169.2" font-size="8.7" text-anchor="start" font-weight="normal" font-style="normal" fill="#333" >Fluid front</text>
<circle cx="481.9" cy="165.4" r="4.0" fill="#fff" stroke="#d63a3f" stroke-width="1.5"/>
<text x="489.3" y="169.2" font-size="8.7" text-anchor="start" font-weight="normal" font-style="normal" fill="#333" >Fracture front</text>
<text x="419" y="37" font-size="14" fill="#fff"><tspan font-style="italic">μ</tspan> = 1 cP</text>
<text x="419" y="189.5" font-size="14.5" fill="#fff" textLength="74" lengthAdjust="spacingAndGlyphs"><tspan font-style="italic">μ</tspan> = 400 cP</text>
<rect x="542.8" y="307.9" width="13.6" height="4.2" fill="#fff"/>
<text x="546.6" y="322.2" font-size="13.2" text-anchor="middle" font-weight="normal" font-style="normal" fill="#fff" >10 mm</text>
<text x="488.4" y="341.2" font-size="14.5" text-anchor="middle" font-weight="normal" font-style="normal" fill="#222" >2 ms</text>
<text x="648.0" y="341.2" font-size="14.5" text-anchor="middle" font-weight="normal" font-style="normal" fill="#222" >4 ms</text>
<text x="397.0" y="29.2" font-size="20.5" text-anchor="start" font-weight="bold" font-style="normal" fill="#000" stroke="#000" stroke-width="0.8">b</text>
<text x="396.4" y="186.0" font-size="22" text-anchor="start" font-weight="bold" font-style="normal" fill="#000" stroke="#000" stroke-width="0.8">c</text>
</g>
<g id="panel-de">
<defs>
<linearGradient id="dV" x1="0" y1="21" x2="0" y2="170" gradientUnits="userSpaceOnUse">
<stop offset="0" stop-color="#fdfdfd"/><stop offset="0.38" stop-color="#fbfbfb"/><stop offset="0.48" stop-color="#efefef"/><stop offset="0.56" stop-color="#e0e0e0"/><stop offset="0.63" stop-color="#d6d6d6"/><stop offset="0.671" stop-color="#c8c8c8"/><stop offset="0.705" stop-color="#d0d0d0"/><stop offset="0.765" stop-color="#c3c3c3"/><stop offset="0.832" stop-color="#b4b4b4"/><stop offset="0.879" stop-color="#989898"/><stop offset="0.906" stop-color="#8c8c8c"/><stop offset="0.933" stop-color="#a8a8a8"/><stop offset="0.96" stop-color="#cdcdcd"/><stop offset="0.987" stop-color="#eeeeee"/><stop offset="1" stop-color="#f6f6f6"/></linearGradient>
<linearGradient id="dH" x1="788" y1="0" x2="1011" y2="0" gradientUnits="userSpaceOnUse"><stop offset="0" stop-color="#fff" stop-opacity="0.55"/><stop offset="0.25" stop-color="#fff" stop-opacity="0.35"/><stop offset="0.6" stop-color="#fff" stop-opacity="0.15"/><stop offset="1" stop-color="#fff" stop-opacity="0"/></linearGradient>
<clipPath id="dClip"><rect x="788" y="21" width="223" height="149"/></clipPath>
<clipPath id="dUnder"><path d="M790.6,170.0 C791.3,168.1 792.9,162.6 794.7,158.3 C796.6,154.0 798.7,150.0 801.7,144.4 C804.7,138.8 808.6,131.2 812.8,125.0 C817.0,118.8 822.1,112.2 826.7,106.9 C831.3,101.6 835.5,97.5 840.6,93.1 C845.7,88.7 851.7,84.1 857.2,80.6 C862.8,77.1 868.3,74.5 873.9,72.2 C879.5,69.9 884.1,68.5 890.6,66.7 C897.1,64.9 905.4,63.0 912.8,61.1 C920.2,59.2 927.6,57.5 935.0,55.6 C942.4,53.8 949.8,51.9 957.2,50.0 C964.6,48.1 972.5,46.2 979.4,44.4 C986.3,42.6 993.7,40.9 998.9,39.4 C1004.1,37.9 1007.6,36.6 1010.8,35.6 C1014.0,34.6 1016.8,33.8 1018.0,33.4 L1019,170 L788,170 Z"/></clipPath>
<filter id="blurE" x="-5%" y="-5%" width="110%" height="110%"><feGaussianBlur stdDeviation="1.6"/></filter>
</defs>
<rect x="788" y="21" width="223" height="149" fill="#060606"/>
<g clip-path="url(#dClip)">
<g filter="url(#blurE)"><path d="M790.6,170.0 C791.3,168.1 792.9,162.6 794.7,158.3 C796.6,154.0 798.7,150.0 801.7,144.4 C804.7,138.8 808.6,131.2 812.8,125.0 C817.0,118.8 822.1,112.2 826.7,106.9 C831.3,101.6 835.5,97.5 840.6,93.1 C845.7,88.7 851.7,84.1 857.2,80.6 C862.8,77.1 868.3,74.5 873.9,72.2 C879.5,69.9 884.1,68.5 890.6,66.7 C897.1,64.9 905.4,63.0 912.8,61.1 C920.2,59.2 927.6,57.5 935.0,55.6 C942.4,53.8 949.8,51.9 957.2,50.0 C964.6,48.1 972.5,46.2 979.4,44.4 C986.3,42.6 993.7,40.9 998.9,39.4 C1004.1,37.9 1007.6,36.6 1010.8,35.6 C1014.0,34.6 1016.8,33.8 1018.0,33.4 L1019,176 L788,176 Z" fill="url(#dV)"/></g>
<g clip-path="url(#dUnder)"><path d="M790.6,170.0 C791.3,168.1 792.9,162.6 794.7,158.3 C796.6,154.0 798.7,150.0 801.7,144.4 C804.7,138.8 808.6,131.2 812.8,125.0 C817.0,118.8 822.1,112.2 826.7,106.9 C831.3,101.6 835.5,97.5 840.6,93.1 C845.7,88.7 851.7,84.1 857.2,80.6 C862.8,77.1 871.1,73.6 873.9,72.2" fill="none" stroke="#fff" stroke-width="20" filter="url(#blur4)" opacity="0.8"/></g>
<path d="M788.2,170 L790.8,152 L795.5,150 L796.5,156" fill="none" stroke="#c23a4a" stroke-width="1.6"/>
<path d="M790.6,170.0 C791.3,168.1 792.9,162.6 794.7,158.3 C796.6,154.0 798.7,150.0 801.7,144.4 C804.7,138.8 808.6,131.2 812.8,125.0 C817.0,118.8 822.1,112.2 826.7,106.9 C831.3,101.6 835.5,97.5 840.6,93.1 C845.7,88.7 851.7,84.1 857.2,80.6 C862.8,77.1 868.3,74.5 873.9,72.2 C879.5,69.9 884.1,68.5 890.6,66.7 C897.1,64.9 905.4,63.0 912.8,61.1 C920.2,59.2 927.6,57.5 935.0,55.6 C942.4,53.8 949.8,51.9 957.2,50.0 C964.6,48.1 972.5,46.2 979.4,44.4 C986.3,42.6 993.7,40.9 998.9,39.4 C1004.1,37.9 1007.6,36.6 1010.8,35.6 C1014.0,34.6 1016.8,33.8 1018.0,33.4" fill="none" stroke="#4a9fd0" stroke-width="2.6" filter="url(#blur06)"/>
</g>
<text x="743.6" y="29.3" font-size="20.5" text-anchor="start" font-weight="bold" font-style="normal" fill="#000" stroke="#000" stroke-width="0.8">d</text>
<text x="781.6" y="28.3" font-size="13" text-anchor="end" font-weight="normal" font-style="normal" fill="#222" >40</text>
<text x="781.6" y="169.6" font-size="13" text-anchor="end" font-weight="normal" font-style="normal" fill="#222" >7</text>
<text transform="translate(778.5,92) rotate(-90)" font-size="15" text-anchor="middle" fill="#222"><tspan font-style="italic">R</tspan> (mm)</text>
<defs>
<clipPath id="eClip"><rect x="788" y="176" width="223" height="150"/></clipPath>
<clipPath id="eGray"><path d="M788.3,325.6 L789.2,295.6 L794.7,295.6 L794.7,278.9 L801.7,278.9 L801.7,263.6 L807.8,263.6 L811.4,251.1 L879.4,251.1 L879.4,245.6 L939.2,245.6 L939.2,240 L954.4,240 L954.4,230.3 L967,230.3 L967,210.8 L982.2,210.8 L986.4,201.1 L1014,200.2 L1015,326 L788,326 Z"/></clipPath>
<clipPath id="eUnder"><path d="M793.3,325.6 C794.5,323.4 798.0,316.1 800.3,312.2 C802.6,308.3 804.2,305.1 807.2,302.5 C810.2,299.9 811.8,299.0 818.3,296.9 C824.8,294.8 836.8,292.1 846.1,290.0 C855.4,287.9 864.6,286.0 873.9,284.4 C883.2,282.8 892.5,281.4 901.7,280.3 C911.0,279.2 920.1,278.1 929.4,277.5 C938.6,276.9 950.2,276.9 957.2,276.7 C964.2,276.5 966.5,277.1 971.1,276.1 C975.7,275.1 980.4,272.4 985.0,270.6 C989.6,268.9 994.6,267.2 998.9,265.6 C1003.2,264.0 1007.9,262.0 1010.8,260.8 C1013.6,259.6 1015.1,259.0 1016.0,258.6 L1017,326 L788,326 Z"/></clipPath>
<linearGradient id="eV" x1="0" y1="176" x2="0" y2="326" gradientUnits="userSpaceOnUse"><stop offset="0" stop-color="#9c9c9c"/><stop offset="0.45" stop-color="#979797"/><stop offset="0.6" stop-color="#8e8e8e"/><stop offset="0.7" stop-color="#767676"/><stop offset="0.78" stop-color="#838383"/><stop offset="1" stop-color="#8a8a8a"/></linearGradient>
<filter id="eStreak" x="0" y="0" width="100%" height="100%"><feTurbulence type="fractalNoise" baseFrequency="0.012 0.55" numOctaves="2" seed="3"/><feColorMatrix type="matrix" values="0 0 0 0 0.08  0 0 0 0 0.08  0 0 0 0 0.08  3.2 0 0 0 -1.35"/></filter>
<filter id="eStreakL" x="0" y="0" width="100%" height="100%"><feTurbulence type="fractalNoise" baseFrequency="0.01 0.5" numOctaves="2" seed="9"/><feColorMatrix type="matrix" values="0 0 0 0 0.1  0 0 0 0 0.1  0 0 0 0 0.1  2.2 0 0 0 -1.0"/></filter>
</defs>
<rect x="788" y="176" width="223" height="150" fill="#060606"/>
<g clip-path="url(#eClip)">
<g clip-path="url(#eGray)"><rect x="788" y="176" width="223" height="150" fill="url(#eV)"/>
<rect x="788" y="176" width="223" height="150" filter="url(#eStreakL)" opacity="0.3"/>
<g filter="url(#blur1)"><path d="M800,281 L870,279.5 L900,279 L870,285 L846,289.5 L818,296 L808,300 L800,300 Z" fill="#555" opacity="0.55"/><path d="M806,266 L1011,262 L1011,266 L806,270 Z" fill="#a0a0a0" opacity="0.5"/></g></g>
<g clip-path="url(#eUnder)"><rect x="788" y="176" width="223" height="150" fill="#e4e4e4"/>
<rect x="788" y="176" width="223" height="150" filter="url(#eStreak)" opacity="0.45"/>
<g filter="url(#blur06)">
<path d="M884,284.6 L905,281.3 L935,279.2 L962,278.6 L984,278.4 L977,283 L960,286 L930,287 L900,286.8 Z" fill="#0c0c0c" opacity="0.92"/>
<path d="M984,278.4 L1000,273 L1011,270 L1011,276 L995,281 L977,283 Z" fill="#777" opacity="0.55"/>
<path d="M821,297.3 L870,295.6 L951,294.2 L951,295.6 L870,297.2 L821,298.8 Z" fill="#6e6e6e" opacity="0.8"/>
<path d="M806,312.4 L860,311.2 L949,311.6 L949,315.2 L860,315.4 L806,316 Z" fill="#5a5a5a" opacity="0.85"/>
<path d="M949,311.6 L1011,312 L1011,314.6 L949,315 Z" fill="#a0a0a0" opacity="0.7"/>
<path d="M965,311.4 L973,311.4 L973,315 L965,315 Z" fill="#333" opacity="0.8"/>
<path d="M803,319.2 L1011,319 L1011,321.4 L803,321.6 Z" fill="#9c9c9c" opacity="0.75"/>
<path d="M812,303 L900,301.5 L960,301 L960,302.2 L900,303 L812,304.5 Z" fill="#b5b5b5" opacity="0.7"/>
<path d="M800,306.5 L880,305.5 L880,309 L800,310 Z" fill="#c4c4c4" opacity="0.7"/>
</g></g>
<path d="M793.3,325.6 C794.5,323.4 798.0,316.1 800.3,312.2 C802.6,308.3 804.2,305.1 807.2,302.5 C810.2,299.9 811.8,299.0 818.3,296.9 C824.8,294.8 836.8,292.1 846.1,290.0 C855.4,287.9 864.6,286.0 873.9,284.4 C883.2,282.8 892.5,281.4 901.7,280.3 C911.0,279.2 920.1,278.1 929.4,277.5 C938.6,276.9 950.2,276.9 957.2,276.7 C964.2,276.5 966.5,277.1 971.1,276.1 C975.7,275.1 980.4,272.4 985.0,270.6 C989.6,268.9 994.6,267.2 998.9,265.6 C1003.2,264.0 1007.9,262.0 1010.8,260.8 C1013.6,259.6 1015.1,259.0 1016.0,258.6" fill="none" stroke="#fff" stroke-width="1.8" transform="translate(0,2.0)" opacity="0.95"/>
<path d="M793.3,325.6 C794.5,323.4 798.0,316.1 800.3,312.2 C802.6,308.3 804.2,305.1 807.2,302.5 C810.2,299.9 811.8,299.0 818.3,296.9 C824.8,294.8 836.8,292.1 846.1,290.0 C855.4,287.9 864.6,286.0 873.9,284.4 C883.2,282.8 892.5,281.4 901.7,280.3 C911.0,279.2 920.1,278.1 929.4,277.5 C938.6,276.9 950.2,276.9 957.2,276.7 C964.2,276.5 966.5,277.1 971.1,276.1 C975.7,275.1 980.4,272.4 985.0,270.6 C989.6,268.9 994.6,267.2 998.9,265.6 C1003.2,264.0 1007.9,262.0 1010.8,260.8 C1013.6,259.6 1015.1,259.0 1016.0,258.6" fill="none" stroke="#3fa9d8" stroke-width="2.7" filter="url(#blur06)"/>
<path d="M788.3,325.6 L789.2,295.6 L794.7,295.6 L794.7,278.9 L801.7,278.9 L801.7,263.6 L807.8,263.6 L811.4,251.1 L879.4,251.1 L879.4,245.6 L939.2,245.6 L939.2,240 L954.4,240 L954.4,230.3 L967,230.3 L967,210.8 L982.2,210.8 L986.4,201.1 L1014,200.2" fill="none" stroke="#c02c39" stroke-width="1.7" stroke-linejoin="miter" filter="url(#blur06)"/>
</g>
<defs><marker id="ay" viewBox="0 0 10 10" refX="9" refY="5" markerWidth="4.4" markerHeight="4.6" orient="auto-start-reverse"><path d="M0,0.5 L10,5 L0,9.5 z" fill="#f5d93a"/></marker></defs>
<line x1="962" y1="208.2" x2="962" y2="226.6" stroke="#f5d93a" stroke-width="1.8" marker-start="url(#ay)" marker-end="url(#ay)"/>
<line x1="962" y1="232.6" x2="962" y2="272.2" stroke="#f5d93a" stroke-width="1.8" marker-start="url(#ay)" marker-end="url(#ay)"/>
<text x="956.5" y="224.8" font-size="14" text-anchor="end" font-weight="normal" font-style="normal" fill="#f5d93a" >δλ</text>
<text x="951.5" y="258.2" font-size="14" text-anchor="end" font-weight="normal" font-style="normal" fill="#f5d93a" >λ</text>
<line x1="978" y1="294.2" x2="995.6" y2="289.2" stroke="#111" stroke-width="1.8"/>
<text x="943.4" y="310.8" font-size="14.2" fill="#111"><tspan font-style="italic">v</tspan> = 3 m s<tspan font-size="9" dy="-5.5">−1</tspan></text>
<text x="743.6" y="185.8" font-size="21" text-anchor="start" font-weight="bold" font-style="normal" fill="#000" stroke="#000" stroke-width="0.8">e</text>
<text x="781.6" y="182.4" font-size="13" text-anchor="end" font-weight="normal" font-style="normal" fill="#222" >40</text>
<text x="781.6" y="324.8" font-size="13" text-anchor="end" font-weight="normal" font-style="normal" fill="#222" >7</text>
<text transform="translate(778.5,246.5) rotate(-90)" font-size="15" text-anchor="middle" fill="#222"><tspan font-style="italic">R</tspan> (mm)</text>
<text x="789.7" y="338.8" font-size="12.5" text-anchor="middle" font-weight="normal" font-style="normal" fill="#222" >0</text>
<text x="898.9" y="338.8" font-size="12.5" text-anchor="middle" font-weight="normal" font-style="normal" fill="#222" >2</text>
<text x="1008.4" y="338.8" font-size="12.5" text-anchor="middle" font-weight="normal" font-style="normal" fill="#222" >4</text>
<text x="898.5" y="359.2" font-size="15" text-anchor="middle" font-weight="normal" font-style="normal" fill="#222" >Time (ms)</text>
</g>
</svg>
</body></html>
